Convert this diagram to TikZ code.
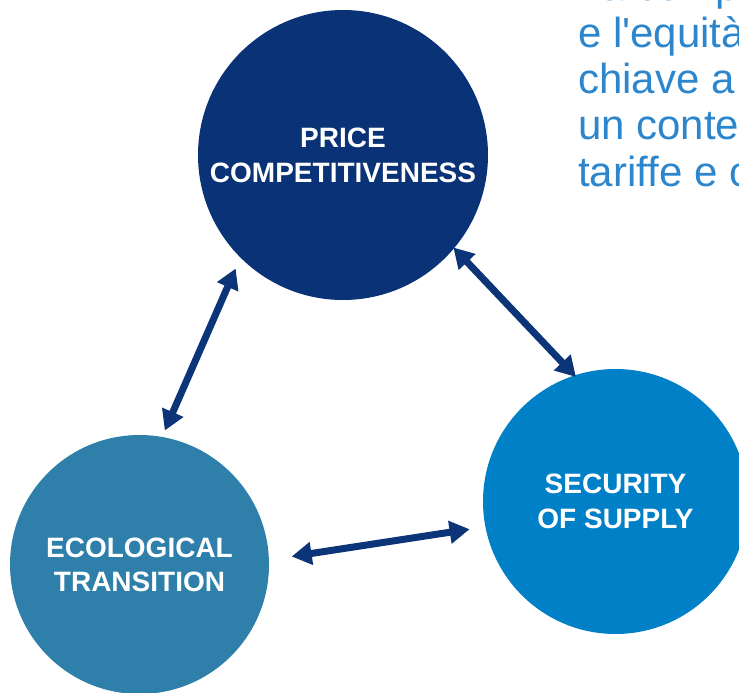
\documentclass[tikz,border=0pt]{standalone}
\usepackage{fontspec}
\setmainfont{Liberation Sans}
\usetikzlibrary{arrows.meta}

\definecolor{pricecol}{HTML}{0A3276}
\definecolor{ecocol}{HTML}{2E80AB}
\definecolor{supplycol}{HTML}{0080C6}
\definecolor{linkcol}{HTML}{0B3578}
\definecolor{introcol}{HTML}{2B86CD}

\tikzset{
  pillar/.style={circle,inner sep=0pt,outer sep=0pt,text=white,align=center,
    font=\bfseries\fontsize{28}{35}\selectfont},
  link/.style={draw=linkcol,line width=7pt,
    {Triangle[length=20pt,width=22pt]}-{Triangle[length=20pt,width=22pt]}},
  intro/.style={text=introcol,align=left,inner sep=0pt,
    font=\fontsize{42}{46.3}\selectfont}
}

\begin{document}
\begin{tikzpicture}[x=1pt,y=-1pt]
  \clip (0,0) rectangle (739,693);

  % running text beside the triangle (base = last line)
  \node[intro,anchor=base west] (introtext) at (578,186)
    {La comp\\e l\textquotesingle equità\\chiave a\\un conte\\tariffe e c};

  % the three pillars
  \node[pillar,fill=pricecol,minimum size=290pt] (price) at (343,155)
    {PRICE\\COMPETITIVENESS};
  \node[pillar,fill=ecocol,minimum size=259pt] (eco) at (139.5,564.5)
    {\raisebox{-2pt}{ECOLOGICAL}\\[1pt]TRANSITION};
  \node[pillar,fill=supplycol,minimum size=265pt] (supply) at (615.5,501.5)
    {SECURITY\\OF SUPPLY};

  % two-way links
  \draw[link,shorten <=12pt,shorten >=7pt] (price.225.8) -- (eco.80.1);
  \draw[link,shorten <=-1pt,shorten >=-2pt] (price.-40.2) -- (supply.108.2);
  \draw[link,shorten <=23pt,shorten >=16pt] (eco.2.8) -- (supply.191.8);
\end{tikzpicture}
\end{document}
